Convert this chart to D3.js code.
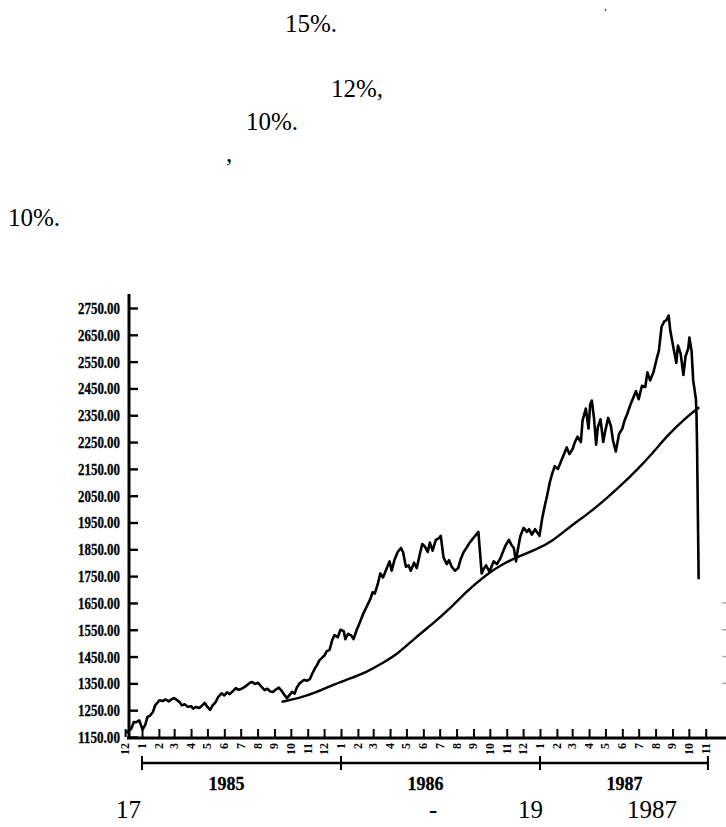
<!DOCTYPE html>
<html>
<head>
<meta charset="utf-8">
<script src="https://cdn.jsdelivr.net/npm/d3@7"></script>
<style>
body { margin: 0; background: #fff; }
svg text { font-family: "Liberation Serif", "Times New Roman", serif; fill: #000; }
.para { font-size: 25px; }
.ylab { font-size: 17px; font-weight: bold; stroke: #000; stroke-width: 0.3px; }
.mlab { font-size: 12px; font-weight: bold; }
.yrlab { font-size: 19px; font-weight: bold; stroke: #000; stroke-width: 0.3px; }
</style>
</head>
<body>
<svg id="chart" width="726" height="827"></svg>
<script>
// Dow Jones daily close (roughly weekly points)
var djia = [
["1984-12-03",1165],["1984-12-07",1172],["1984-12-12",1180],["1984-12-17",1206],["1984-12-21",1205],
["1984-12-27",1212],["1985-01-02",1178],["1985-01-07",1195],["1985-01-11",1225],["1985-01-16",1230],
["1985-01-21",1243],["1985-01-25",1268],["1985-01-29",1277],["1985-02-02",1287],["1985-02-08",1284],
["1985-02-13",1290],["1985-02-19",1283],["1985-02-25",1292],["1985-03-01",1295],["1985-03-06",1288],
["1985-03-11",1280],["1985-03-15",1268],["1985-03-20",1272],["1985-03-26",1263],["1985-04-01",1265],
["1985-04-05",1256],["1985-04-10",1262],["1985-04-16",1258],["1985-04-20",1265],["1985-04-26",1277],
["1985-05-01",1262],["1985-05-06",1251],["1985-05-10",1266],["1985-05-16",1280],["1985-05-21",1300],
["1985-05-27",1313],["1985-06-01",1305],["1985-06-06",1316],["1985-06-11",1310],["1985-06-17",1322],
["1985-06-22",1332],["1985-06-27",1326],["1985-07-03",1330],["1985-07-09",1338],["1985-07-13",1344],
["1985-07-18",1352],["1985-07-22",1355],["1985-07-27",1348],["1985-08-02",1352],["1985-08-08",1338],
["1985-08-14",1325],["1985-08-19",1330],["1985-08-24",1320],["1985-08-29",1318],["1985-09-04",1328],
["1985-09-09",1334],["1985-09-13",1325],["1985-09-18",1310],["1985-09-24",1295],["1985-09-28",1305],
["1985-10-03",1318],["1985-10-08",1312],["1985-10-12",1335],["1985-10-17",1350],["1985-10-22",1358],
["1985-10-26",1363],["1985-10-31",1360],["1985-11-05",1366],["1985-11-09",1385],["1985-11-14",1405],
["1985-11-18",1418],["1985-11-22",1435],["1985-11-27",1445],["1985-12-02",1455],["1985-12-06",1470],
["1985-12-11",1475],["1985-12-16",1512],["1985-12-20",1530],["1985-12-26",1522],["1985-12-31",1550],
["1986-01-06",1545],["1986-01-09",1515],["1986-01-14",1535],["1986-01-20",1528],["1986-01-24",1515],
["1986-01-29",1545],["1986-02-03",1570],["1986-02-07",1590],["1986-02-12",1615],["1986-02-18",1640],
["1986-02-24",1665],["1986-02-28",1690],["1986-03-04",1685],["1986-03-10",1725],["1986-03-14",1760],
["1986-03-19",1745],["1986-03-25",1775],["1986-03-31",1805],["1986-04-04",1770],["1986-04-09",1810],
["1986-04-15",1840],["1986-04-21",1855],["1986-04-25",1838],["1986-04-30",1785],["1986-05-05",1790],
["1986-05-09",1770],["1986-05-15",1800],["1986-05-20",1780],["1986-05-26",1835],["1986-05-30",1870],
["1986-06-04",1860],["1986-06-09",1840],["1986-06-13",1875],["1986-06-18",1845],["1986-06-24",1885],
["1986-06-30",1892],["1986-07-03",1900],["1986-07-08",1820],["1986-07-14",1795],["1986-07-18",1810],
["1986-07-23",1785],["1986-07-29",1770],["1986-08-04",1780],["1986-08-08",1810],["1986-08-14",1840],
["1986-08-19",1855],["1986-08-25",1875],["1986-08-29",1885],["1986-09-04",1900],["1986-09-10",1915],
["1986-09-16",1760],["1986-09-19",1775],["1986-09-24",1790],["1986-09-30",1768],["1986-10-03",1780],
["1986-10-08",1805],["1986-10-14",1795],["1986-10-20",1815],["1986-10-24",1835],["1986-10-30",1865],
["1986-11-05",1885],["1986-11-10",1865],["1986-11-14",1855],["1986-11-18",1805],["1986-11-21",1845],
["1986-11-26",1900],["1986-12-02",1930],["1986-12-08",1915],["1986-12-12",1925],["1986-12-17",1905],
["1986-12-23",1925],["1986-12-31",1900],["1987-01-05",1965],["1987-01-09",2005],["1987-01-14",2050],
["1987-01-19",2100],["1987-01-23",2130],["1987-01-28",2160],["1987-02-03",2150],["1987-02-09",2180],
["1987-02-13",2200],["1987-02-19",2230],["1987-02-24",2205],["1987-03-02",2225],["1987-03-06",2250],
["1987-03-11",2270],["1987-03-17",2250],["1987-03-20",2330],["1987-03-26",2375],["1987-03-31",2300],
["1987-04-03",2390],["1987-04-06",2405],["1987-04-10",2340],["1987-04-14",2240],["1987-04-17",2305],
["1987-04-22",2335],["1987-04-27",2250],["1987-04-30",2285],["1987-05-06",2340],["1987-05-11",2310],
["1987-05-15",2255],["1987-05-20",2215],["1987-05-26",2280],["1987-06-01",2300],["1987-06-05",2330],
["1987-06-10",2355],["1987-06-16",2390],["1987-06-22",2420],["1987-06-26",2440],["1987-07-01",2410],
["1987-07-07",2460],["1987-07-13",2455],["1987-07-17",2510],["1987-07-22",2480],["1987-07-28",2510],
["1987-08-03",2560],["1987-08-07",2590],["1987-08-12",2680],["1987-08-17",2700],["1987-08-21",2705],
["1987-08-25",2722],["1987-08-28",2665],["1987-09-02",2610],["1987-09-08",2545],["1987-09-11",2610],
["1987-09-16",2580],["1987-09-21",2500],["1987-09-25",2570],["1987-09-30",2600],["1987-10-02",2640],
["1987-10-06",2590],["1987-10-09",2480],["1987-10-14",2410],["1987-10-15",2355],["1987-10-16",2246],
["1987-10-19",1738]
];

// smooth moving average curve
var avg = [
["1985-09-14",1281],["1985-10-16",1295],["1985-11-15",1315],["1985-12-16",1344],["1986-01-15",1366],
["1986-02-17",1392],["1986-03-18",1425],["1986-04-17",1463],["1986-05-17",1520],["1986-06-17",1570],
["1986-07-18",1625],["1986-08-20",1695],["1986-09-24",1755],["1986-10-24",1795],["1986-11-24",1825],
["1986-12-24",1848],["1987-01-24",1880],["1987-02-25",1935],["1987-03-25",1975],["1987-04-25",2025],
["1987-05-25",2080],["1987-06-25",2140],["1987-07-25",2205],["1987-08-25",2280],["1987-09-25",2340],
["1987-10-20",2380]
];

var yTicks = [1150,1250,1350,1450,1550,1650,1750,1850,1950,2050,2150,2250,2350,2450,2550,2650,2750];
var rightTicks = [1350,1450,1550,1650];
var years = [1985, 1986, 1987];

var parse = d3.timeParse("%Y-%m-%d");
djia = djia.map(function(d) { return {date: parse(d[0]), value: d[1]} });
avg = avg.map(function(d) { return {date: parse(d[0]), value: d[1]} });

var svg = d3.select("#chart");

var x = d3.scaleTime()
    .domain([new Date(1985, 0, 1), new Date(1987, 0, 1)])
    .range([142, 540]);

var y = d3.scaleLinear()
    .domain([1150, 2750])
    .range([737, 308]);

var axisX = 129;
var baseY = y(1150);

// text around the chart
var para = svg.append("g").attr("class", "para");
para.append("text").attr("x", 285).attr("y", 32).text("15%.");
para.append("text").attr("x", 331).attr("y", 97).text("12%,");
para.append("text").attr("x", 246).attr("y", 130).text("10%.");
para.append("text").attr("x", 226).attr("y", 162).text(",");
para.append("text").attr("x", 8).attr("y", 226).text("10%.");
para.append("text").attr("x", 116).attr("y", 818).text("17");
para.append("text").attr("x", 429).attr("y", 818).text("-");
para.append("text").attr("x", 518).attr("y", 818).text("19");
para.append("text").attr("x", 627).attr("y", 818).text("1987");
// cut-off mark at the very top
para.append("text").attr("x", 604).attr("y", 10).style("font-size", "11px").text(",");

// y axis: ticks inside, labels left
var yAxis = d3.axisLeft(y)
    .tickValues(yTicks)
    .tickFormat(d3.format(".2f"))
    .tickSizeInner(-9)
    .tickSizeOuter(0)
    .tickPadding(9);

var gy = svg.append("g")
    .attr("transform", "translate(" + axisX + ",0)")
    .call(yAxis);
gy.select(".domain").remove();
gy.selectAll(".tick line").attr("stroke", "#000").attr("stroke-width", 2.4);
gy.selectAll(".tick text")
    .attr("class", "ylab")
    .attr("font-family", null).attr("font-size", null)
    .attr("textLength", 42)
    .attr("lengthAdjust", "spacingAndGlyphs");

svg.append("line")
    .attr("x1", axisX).attr("x2", axisX)
    .attr("y1", baseY + 2).attr("y2", y(2750) - 14)
    .attr("stroke", "#000").attr("stroke-width", 3);

// faint ticks of a cut-off right axis
svg.append("g").selectAll("line")
    .data(rightTicks).enter().append("line")
    .attr("x1", 722).attr("x2", 726)
    .attr("y1", function(d) { return y(d) }).attr("y2", function(d) { return y(d) })
    .attr("stroke", "#aaa").attr("stroke-width", 1.5);

// month axis
var months = d3.timeMonth.range(new Date(1984, 11, 1), new Date(1987, 10, 2));

var xAxis = d3.axisBottom(x)
    .tickValues(months)
    .tickFormat("")
    .tickSizeInner(-8)
    .tickSizeOuter(0);

var gx = svg.append("g")
    .attr("transform", "translate(0," + baseY + ")")
    .call(xAxis);
gx.select(".domain").remove();
gx.selectAll(".tick line").attr("stroke", "#000").attr("stroke-width", 2);

svg.append("line")
    .attr("x1", axisX - 2).attr("x2", 726)
    .attr("y1", baseY + 1).attr("y2", baseY + 1)
    .attr("stroke", "#000").attr("stroke-width", 3);

svg.append("g").selectAll("text")
    .data(months).enter().append("text")
    .attr("class", "mlab")
    .attr("text-anchor", "end")
    .attr("transform", function(d) {
        return "translate(" + (x(d) + 4) + "," + (baseY + 6) + ") rotate(-90)";
    })
    .text(function(d) { return d.getMonth() + 1 });

// year axis
var yearY = 763;
var yearEnd = new Date(1987, 10, 5);
var yearMarks = years.map(function(yr) { return new Date(yr, 0, 1) }).concat([yearEnd]);

svg.append("line")
    .attr("x1", x(yearMarks[0])).attr("x2", x(yearEnd))
    .attr("y1", yearY).attr("y2", yearY)
    .attr("stroke", "#000").attr("stroke-width", 2.6);

svg.append("g").selectAll("line")
    .data(yearMarks).enter().append("line")
    .attr("x1", function(d) { return x(d) }).attr("x2", function(d) { return x(d) })
    .attr("y1", yearY - 7).attr("y2", yearY + 7)
    .attr("stroke", "#000").attr("stroke-width", 2);

svg.append("g").selectAll("text")
    .data(years).enter().append("text")
    .attr("class", "yrlab")
    .attr("text-anchor", "middle")
    .attr("x", function(d) { return x(new Date(d, 5, 5)) })
    .attr("y", 790)
    .attr("textLength", 36)
    .attr("lengthAdjust", "spacingAndGlyphs")
    .text(function(d) { return d });

// lines
var line = d3.line()
    .x(function(d) { return x(d.date) })
    .y(function(d) { return y(d.value) });

svg.append("path")
    .datum(avg)
    .attr("fill", "none")
    .attr("stroke", "#000")
    .attr("stroke-width", 2.4)
    .attr("d", line.curve(d3.curveBasis));

svg.append("path")
    .datum(djia)
    .attr("fill", "none")
    .attr("stroke", "#000")
    .attr("stroke-width", 2.6)
    .attr("stroke-linejoin", "round")
    .attr("d", line.curve(d3.curveLinear));
</script>
</body>
</html>
